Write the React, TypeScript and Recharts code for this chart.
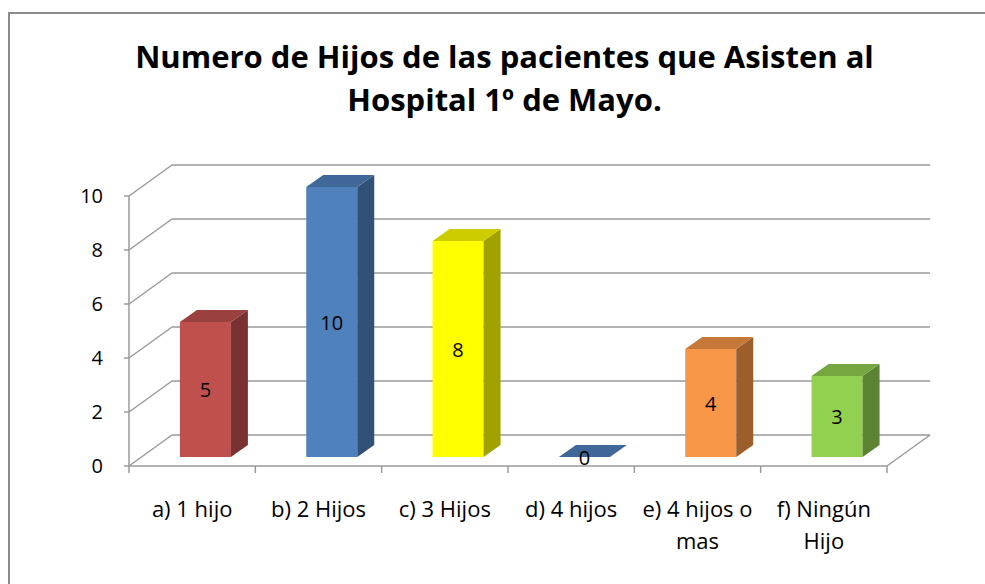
import { BarChart, Bar, XAxis, YAxis, CartesianGrid, Cell, LabelList } from "recharts";

const CATEGORIES = ["a) 1 hijo", "b) 2 Hijos", "c) 3 Hijos", "d) 4 hijos", "e) 4 hijos o mas", "f) Ningún Hijo"];
const VALUES = [5, 10, 8, 0, 4, 3];
const Y_TICKS = [0, 2, 4, 6, 8, 10];
const TITLE_LINES = ["Numero de Hijos de las pacientes que Asisten al", "Hospital 1º de Mayo."];
const BAR_COLORS = ["#C0504D", "#4F81BD", "#FFFF00", "#4F81BD", "#F79646", "#92D050"];

const data = CATEGORIES.map((name, i) => ({ name, value: VALUES[i] }));

const W = 985;
const H = 584;
const MARGIN = { top: 196, right: 98, bottom: 58, left: 69 };
const Y_AXIS_W = 60;
const PLOT_W = W - MARGIN.left - Y_AXIS_W - MARGIN.right;
const BAND = PLOT_W / CATEGORIES.length;

const FONT = "'Open Sans', sans-serif";
const FS = 20;
const FS_CAT = 22;
const GRID = "#9a9a9a";

// fake 3d: back wall offset, bar offset into the scene, bar depth
const WALL_DX = 43;
const WALL_DY = 31;
const OX = 13;
const OY = 9;
const BX = 17;
const BY = 12;

const shade = (hex: string, f: number) => {
  const n = parseInt(hex.slice(1), 16);
  const r = Math.round(((n >> 16) & 255) * f);
  const g = Math.round(((n >> 8) & 255) * f);
  const b = Math.round((n & 255) * f);
  return `rgb(${r},${g},${b})`;
};

let ctx: CanvasRenderingContext2D | null = null;
const wrap = (label: string, maxW: number) => {
  if (!ctx) ctx = document.createElement("canvas").getContext("2d");
  if (!ctx) return [label];
  ctx.font = `${FS_CAT}px ${FONT}`;
  const lines: string[] = [];
  let cur = "";
  for (const w of label.split(" ")) {
    const next = cur ? `${cur} ${w}` : w;
    if (cur && ctx.measureText(next).width > maxW) {
      lines.push(cur);
      cur = w;
    } else cur = next;
  }
  lines.push(cur);
  return lines;
};

const Bar3D = (props: any) => {
  const { x, y, width, height, fill } = props;
  const fx = x + OX;
  const fy = y - OY;
  const top = `M${fx},${fy} L${fx + BX},${fy - BY} L${fx + width + BX},${fy - BY} L${fx + width},${fy} Z`;
  const side = `M${fx + width},${fy} L${fx + width + BX},${fy - BY} L${fx + width + BX},${fy + height - BY} L${fx + width},${fy + height} Z`;
  return (
    <g>
      <rect x={fx} y={fy} width={width} height={height} fill={fill} />
      <path d={side} fill={shade(fill, 0.63)} />
      <path d={top} fill={shade(fill, 0.8)} />
    </g>
  );
};

const GridLine = (p: any) => {
  const { x1, x2, y1 } = p;
  return (
    <g key={`g-${y1}`} stroke={GRID} strokeWidth={1.5} fill="none">
      <line x1={x1 - 5} y1={y1} x2={x1} y2={y1} />
      <line x1={x1} y1={y1} x2={x1 + WALL_DX} y2={y1 - WALL_DY} />
      <line x1={x1 + WALL_DX} y1={y1 - WALL_DY} x2={x2 + WALL_DX} y2={y1 - WALL_DY} />
    </g>
  );
};

const XTick = (p: any) => {
  const { x, y, payload, index } = p;
  const last = index === CATEGORIES.length - 1;
  const right = x + BAND / 2;
  const lines = wrap(String(payload.value), BAND - 2);
  return (
    <g>
      <line x1={x - BAND / 2} y1={y} x2={x - BAND / 2} y2={y + 7} stroke={GRID} strokeWidth={1.5} />
      {last && (
        <g stroke={GRID} strokeWidth={1.5}>
          <line x1={right} y1={y} x2={right} y2={y + 7} />
          <line x1={right} y1={y} x2={right + WALL_DX} y2={y - WALL_DY} />
        </g>
      )}
      <text x={x} y={y + 51} textAnchor="middle" fontSize={FS_CAT} fontFamily={FONT} fill="#000">
        {lines.map((l, i) => (
          <tspan key={l} x={x} dy={i === 0 ? 0 : 32}>
            {l}
          </tspan>
        ))}
      </text>
    </g>
  );
};

const BarValue = (p: any) => {
  const { x, y, width, height, value } = p;
  return (
    <text
      x={x + width / 2 + OX}
      y={y + height / 2 - OY}
      textAnchor="middle"
      dominantBaseline="central"
      fontSize={FS}
      fontFamily={FONT}
      fill="#000"
    >
      {value}
    </text>
  );
};

export default function App() {
  return (
    <div style={{ position: "relative", width: W, height: H, overflow: "hidden", background: "#fff" }}>
      <style>{"body{margin:0}"}</style>
      <div
        style={{
          position: "absolute",
          left: 8,
          top: 12,
          width: W + 40,
          height: H + 40,
          border: "2px solid #8c8c8c",
          boxSizing: "border-box",
        }}
      />
      <div
        style={{
          position: "absolute",
          left: 24,
          top: 35,
          width: W - 24,
          textAlign: "center",
          fontFamily: FONT,
          fontWeight: 700,
          fontSize: 31,
          lineHeight: "43px",
          color: "#000",
        }}
      >
        {TITLE_LINES.map((t) => (
          <div key={t}>{t}</div>
        ))}
      </div>
      <div style={{ position: "absolute", left: 0, top: 0 }}>
        <BarChart width={W} height={H} data={data} margin={MARGIN} barCategoryGap="30%">
          <CartesianGrid vertical={false} horizontal={GridLine} />
          <XAxis
            dataKey="name"
            height={60}
            axisLine={{ stroke: GRID, strokeWidth: 1.5 }}
            tickLine={false}
            tickSize={0}
            tickMargin={0}
            interval={0}
            tick={XTick}
          />
          <YAxis
            width={Y_AXIS_W}
            domain={[0, 10]}
            ticks={Y_TICKS}
            axisLine={{ stroke: GRID, strokeWidth: 1.5 }}
            tickLine={false}
            tickSize={0}
            tickMargin={26}
            tick={{ fill: "#000", fontSize: FS, fontFamily: FONT }}
          />
          <Bar dataKey="value" shape={Bar3D} isAnimationActive={false}>
            {data.map((d, i) => (
              <Cell key={d.name} fill={BAR_COLORS[i]} />
            ))}
            <LabelList dataKey="value" content={BarValue} />
          </Bar>
        </BarChart>
      </div>
    </div>
  );
}
